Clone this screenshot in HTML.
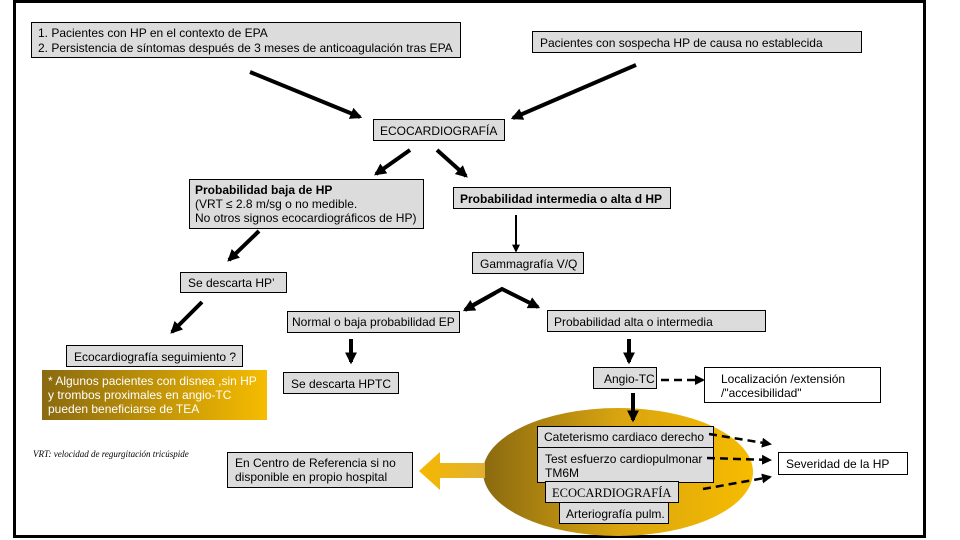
<!DOCTYPE html>
<html><head><meta charset="utf-8"><style>
html,body{margin:0;padding:0;background:#fff;width:960px;height:540px;overflow:hidden}
svg{display:block}
text{font-family:"Liberation Sans",sans-serif;font-size:12px;fill:#000}
.b{fill:#dcdcdc;stroke:#000;stroke-width:1}
.w{fill:#fff;stroke:#000;stroke-width:1}
.a{stroke:#000;stroke-width:4;fill:none}
.t{stroke:#000;stroke-width:2;fill:none}
.d{stroke:#000;stroke-width:2.5;fill:none;stroke-dasharray:8,5}
</style></head><body>
<svg width="960" height="540" viewBox="0 0 960 540" xmlns="http://www.w3.org/2000/svg">
<defs>
<marker id="m" viewBox="0 0 10 10" refX="8" refY="5" markerWidth="3" markerHeight="3" orient="auto"><path d="M0,0 L10,5 L0,10z" fill="#000"/></marker>
<marker id="ms" viewBox="0 0 10 10" refX="8" refY="5" markerWidth="4" markerHeight="4" orient="auto"><path d="M0,0 L10,5 L0,10z" fill="#000"/></marker>
<linearGradient id="g1" x1="0" x2="1"><stop offset="0" stop-color="#8a6a10"/><stop offset="1" stop-color="#f6bc00"/></linearGradient>
<linearGradient id="g2" x1="0" x2="1"><stop offset="0" stop-color="#8a6a10"/><stop offset="0.5" stop-color="#d9a410"/><stop offset="1" stop-color="#f6bc00"/></linearGradient>
<linearGradient id="g3" x1="0" x2="1"><stop offset="0" stop-color="#f5b800"/><stop offset="1" stop-color="#e2b030"/></linearGradient>
</defs>
<rect x="14.5" y="1.5" width="910" height="535" fill="#fff" stroke="#000" stroke-width="3"/>

<rect class="b" x="31.5" y="22.5" width="429" height="35"/>
<text x="38" y="37">1.  Pacientes con HP en el contexto de EPA</text>
<text x="38" y="52">2.  Persistencia de síntomas después de 3 meses de anticoagulación tras EPA</text>

<rect class="b" x="532.5" y="31.5" width="329" height="21"/>
<text x="540" y="47">Pacientes con sospecha  HP de causa no establecida</text>

<line class="a" x1="250" y1="72" x2="360" y2="117" marker-end="url(#m)"/>
<line class="a" x1="636" y1="65" x2="513" y2="118" marker-end="url(#m)"/>

<rect class="b" x="373.5" y="119.5" width="131" height="21"/>
<text x="380" y="135">ECOCARDIOGRAFÍA</text>

<line class="a" x1="410" y1="150" x2="376" y2="174" marker-end="url(#m)"/>
<line class="a" x1="437" y1="150" x2="466" y2="176" marker-end="url(#m)"/>

<rect class="b" x="189.5" y="179.5" width="234" height="49"/>
<text x="195" y="194" font-weight="bold">Probabilidad baja de HP</text>
<text x="195" y="208">(VRT ≤ 2.8 m/sg o no medible.</text>
<text x="195" y="222">No otros signos ecocardiográficos de HP)</text>

<rect class="b" x="453.5" y="187.5" width="217" height="21"/>
<text x="460" y="203" font-weight="bold">Probabilidad intermedia o alta d HP</text>

<line class="t" x1="516" y1="215" x2="516" y2="251" marker-end="url(#ms)"/>

<rect class="b" x="472.5" y="252.5" width="111" height="21"/>
<text x="480" y="268">Gammagrafía V/Q</text>

<line class="a" x1="259" y1="231" x2="229" y2="260" marker-end="url(#m)"/>

<rect class="b" x="180.5" y="272.5" width="106" height="20"/>
<text x="188" y="287">Se descarta HP’</text>

<polyline class="a" points="466,309 502,289 538,307" marker-end="url(#m)"/>
<line class="a" x1="495" y1="293" x2="465" y2="310" marker-end="url(#m)"/>

<line class="a" x1="202" y1="302" x2="172" y2="332" marker-end="url(#m)"/>

<rect class="b" x="287.5" y="311.5" width="172" height="21"/>
<text x="292" y="326">Normal o baja probabilidad EP</text>

<rect class="b" x="547.5" y="310.5" width="218" height="21"/>
<text x="554" y="326">Probabilidad alta o intermedia</text>

<line class="a" x1="351" y1="339" x2="351" y2="362" marker-end="url(#m)"/>
<line class="a" x1="629" y1="339" x2="629" y2="362" marker-end="url(#m)"/>

<rect class="b" x="66.5" y="345.5" width="176" height="21"/>
<text x="74" y="361">Ecocardiografía seguimiento ?</text>

<rect x="42" y="370" width="225" height="50" fill="url(#g1)"/>
<text x="48" y="385" style="fill:#fff">* Algunos pacientes con disnea ,sin HP</text>
<text x="48" y="399" style="fill:#fff">y trombos proximales en angio-TC</text>
<text x="48" y="413" style="fill:#fff">pueden beneficiarse de TEA</text>

<rect class="b" x="283.5" y="372.5" width="115" height="21"/>
<text x="291" y="388">Se descarta HPTC</text>

<rect class="b" x="593.5" y="367.5" width="63" height="21"/>
<text x="604" y="383">Angio-TC</text>

<line class="d" x1="661" y1="380" x2="703" y2="380" marker-end="url(#ms)"/>

<rect class="w" x="704.5" y="367.5" width="176" height="35"/>
<text x="721" y="383">Localización /extensión</text>
<text x="721" y="397">/"accesibilidad"</text>

<ellipse cx="618" cy="472" rx="135" ry="64" fill="url(#g2)"/>
<line class="a" x1="633" y1="393" x2="633" y2="420" marker-end="url(#m)"/>

<rect class="b" x="537.5" y="426.5" width="176" height="21"/>
<text x="544" y="441">Cateterismo cardiaco derecho</text>
<rect class="b" x="537.5" y="447.5" width="176" height="35"/>
<text x="545" y="463">Test esfuerzo cardiopulmonar</text>
<text x="545" y="477">TM6M</text>
<rect class="b" x="545.5" y="481.5" width="133" height="21"/>
<text x="552" y="497" style="font-family:'Liberation Serif',serif;font-size:12.5px">ECOCARDIOGRAFÍA</text>
<rect class="b" x="559.5" y="502.5" width="109" height="21"/>
<text x="566" y="518">Arteriografía pulm.</text>

<line class="d" x1="709" y1="434" x2="770" y2="444" marker-end="url(#ms)"/>
<line class="d" x1="707" y1="458" x2="770" y2="460" marker-end="url(#ms)"/>
<line class="d" x1="703" y1="489" x2="770" y2="477" marker-end="url(#ms)"/>

<rect class="w" x="778.5" y="452.5" width="129" height="22"/>
<text x="786" y="468">Severidad de la HP</text>

<polygon points="419,471 440,452 440,463 485,463 485,478 440,478 440,490" fill="url(#g3)"/>

<rect class="b" x="227.5" y="452.5" width="185" height="35"/>
<text x="235" y="467">En Centro de Referencia si no</text>
<text x="235" y="481">disponible en propio hospital</text>

<text x="33" y="457" style="font-family:'Liberation Serif',serif;font-style:italic;font-size:9px">VRT: velocidad de regurgitación tricúspide</text>
</svg>
</body></html>
